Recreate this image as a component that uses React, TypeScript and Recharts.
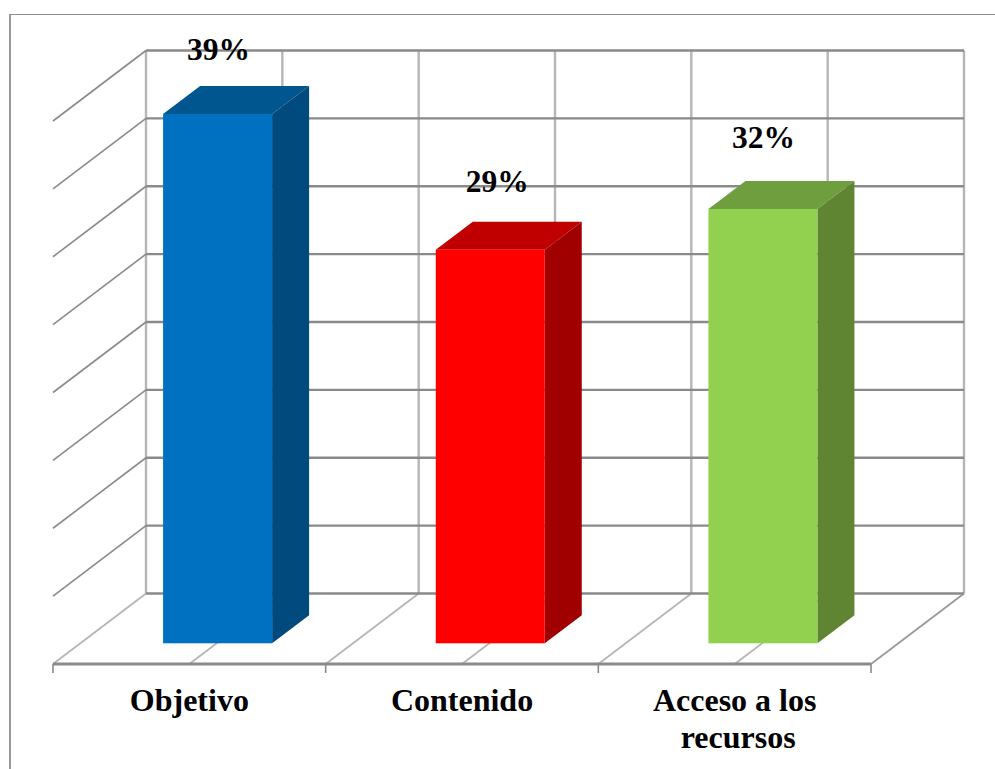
import React from "react";
import { BarChart, Bar, XAxis, YAxis, ReferenceLine, LabelList } from "recharts";

const categories = ["Objetivo", "Contenido", "Acceso a los recursos"];
const tickLines = [["Objetivo"], ["Contenido"], ["Acceso a los", "recursos"]];
const values = [39, 29, 32];
const wallTicks = [5, 10, 15, 20, 25, 30, 35, 40];
const frontColors = ["#0070C0", "#FF0000", "#92D050"];
const topColors = ["#00568F", "#C00000", "#6F9E3E"];
const sideColors = ["#004A7D", "#A00000", "#5F8533"];
const labelNudge = [{ dx: 1, dy: -54 }, { dx: 7, dy: -57.5 }, { dx: 0.5, dy: -61 }];
const tickLineNudge = [0, 3.5];

const data = categories.map((name, i) => ({ name, value: values[i] }));

const WALL_DX = 93;
const WALL_DY = 70.5;
const BAR_SHIFT_X = 28.3;
const BAR_SHIFT_Y = 20.7;
const BAR_DX = 37;
const BAR_DY = 28;
const DARK = "#8A8A8A";
const LIGHT = "#B6B6B6";
const FONT = '"Liberation Serif", "Times New Roman", serif';

function WallLine(props: any) {
  const { x1, y1, x2 } = props;
  const backY = y1 - WALL_DY;
  return (
    <g>
      <line x1={x1} y1={y1} x2={x1 + WALL_DX} y2={backY} stroke={DARK} strokeWidth={1.6} />
      <line x1={x1 + WALL_DX} y1={backY} x2={x2 + WALL_DX} y2={backY} stroke={DARK} strokeWidth={2.4} />
    </g>
  );
}

function FloorLines(props: any) {
  const { x1, y1, x2 } = props;
  const backY = y1 - WALL_DY;
  const topY = backY - 543;
  const step = (x2 - x1) / categories.length;
  const halves = Array.from({ length: categories.length * 2 + 1 }, (_, i) => i);
  return (
    <g>
      {halves.map((i) => {
        const fx = x1 + (i * step) / 2;
        return (
          <g key={i}>
            <line x1={fx + WALL_DX} y1={topY} x2={fx + WALL_DX} y2={backY} stroke={LIGHT} strokeWidth={2.4} />
            <line x1={fx} y1={y1} x2={fx + WALL_DX} y2={backY} stroke={i === 6 ? "#9A9A9A" : LIGHT} strokeWidth={1.8} />
            {i % 2 === 0 ? (
              <line x1={fx} y1={y1} x2={fx} y2={y1 + 9} stroke={DARK} strokeWidth={1.6} />
            ) : null}
          </g>
        );
      })}
      <line x1={x1 + WALL_DX} y1={backY} x2={x2 + WALL_DX} y2={backY} stroke={DARK} strokeWidth={2.4} />
      <line x1={x1} y1={y1} x2={x2} y2={y1} stroke={DARK} strokeWidth={2.8} />
    </g>
  );
}

function Box(props: any) {
  const { x, y, width, height, index } = props;
  const l = x + BAR_SHIFT_X;
  const t = y - BAR_SHIFT_Y;
  const r = l + width;
  const b = t + height;
  return (
    <g>
      <polygon
        points={`${l},${t} ${l + BAR_DX},${t - BAR_DY} ${r + BAR_DX},${t - BAR_DY} ${r},${t}`}
        fill={topColors[index]}
      />
      <polygon
        points={`${r},${t} ${r + BAR_DX},${t - BAR_DY} ${r + BAR_DX},${b - BAR_DY} ${r},${b}`}
        fill={sideColors[index]}
      />
      <rect x={l} y={t} width={width} height={height} fill={frontColors[index]} />
    </g>
  );
}

function ValueLabel(props: any) {
  const { x, y, width, value, index } = props;
  const n = labelNudge[index];
  return (
    <text
      x={x + BAR_SHIFT_X + width / 2 + n.dx}
      y={y - BAR_SHIFT_Y + n.dy}
      textAnchor="middle"
      fontFamily={FONT}
      fontWeight="bold"
      fontSize={31.5}
      fill="#000"
    >
      {`${value}%`}
    </text>
  );
}

function CategoryTick(props: any) {
  const { x, index } = props;
  return (
    <text textAnchor="middle" fontFamily={FONT} fontWeight="bold" fontSize={32} fill="#000">
      {tickLines[index].map((line, i) => (
        <tspan key={line} x={x + tickLineNudge[i]} y={711 + i * 37}>
          {line}
        </tspan>
      ))}
    </text>
  );
}

export default function App() {
  return (
    <div style={{ position: "fixed", left: 0, top: 0, width: 995, height: 769, overflow: "hidden", background: "#fff" }}>
      <div
        style={{
          position: "absolute",
          left: 9,
          top: 14,
          width: 1100,
          height: 900,
          borderLeft: "2px solid #999",
          borderTop: "1.5px solid #8C8C8C",
        }}
      />
      <div style={{ position: "absolute", left: 0, top: 0 }}>
        <BarChart
          width={995}
          height={769}
          data={data}
          barCategoryGap="30%"
          margin={{ top: 121, right: 124, bottom: 45, left: 53 }}
        >
          <XAxis
            dataKey="name"
            height={60}
            axisLine={false}
            tickLine={false}
            interval={0}
            tick={<CategoryTick />}
          />
          <YAxis hide width={0} domain={[0, 40]} ticks={[0, ...wallTicks]} />
          <ReferenceLine y={0} shape={<FloorLines />} zIndex={-200} />
          {wallTicks.map((t) => (
            <ReferenceLine key={t} y={t} shape={<WallLine />} zIndex={-100} />
          ))}
          <Bar dataKey="value" isAnimationActive={false} shape={<Box />}>
            <LabelList dataKey="value" content={<ValueLabel />} />
          </Bar>
        </BarChart>
      </div>
    </div>
  );
}
